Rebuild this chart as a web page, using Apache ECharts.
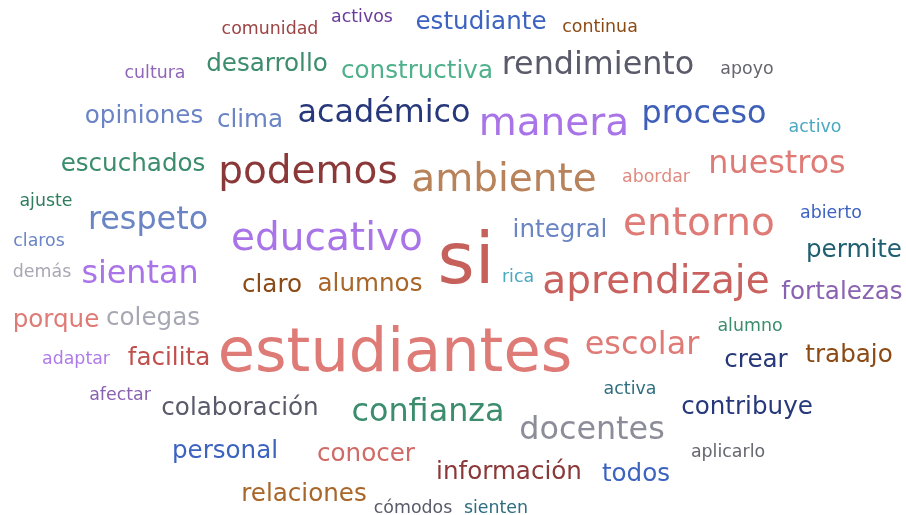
<!DOCTYPE html>
<html>
<head>
<meta charset="utf-8">
<script src="https://cdn.jsdelivr.net/npm/echarts@6/dist/echarts.min.js"></script>
<style>
  html, body { margin: 0; padding: 0; background: #fff; }
  #cloud { width: 906px; height: 515px; }
</style>
</head>
<body>
<div id="cloud"></div>
<script>
// words and their weights
var words = ['si', 'estudiantes', 'aprendizaje', 'educativo', 'entorno', 'podemos', 'ambiente', 'manera',
  'rendimiento', 'académico', 'proceso', 'nuestros', 'respeto', 'sientan', 'docentes', 'confianza', 'escolar',
  'estudiante', 'desarrollo', 'constructiva', 'opiniones', 'clima', 'escuchados', 'integral', 'permite',
  'fortalezas', 'claro', 'alumnos', 'porque', 'colegas', 'facilita', 'crear', 'trabajo', 'colaboración',
  'contribuye', 'personal', 'conocer', 'información', 'todos', 'relaciones',
  'comunidad', 'activos', 'continua', 'cultura', 'apoyo', 'activo', 'abordar', 'ajuste', 'abierto', 'claros',
  'demás', 'rica', 'alumno', 'adaptar', 'afectar', 'activa', 'aplicarlo', 'cómodos', 'sienten'];
var weights = [21, 18, 12, 12, 12, 12, 12, 12,
  10, 10, 10, 10, 10, 10, 10, 10, 10,
  8, 8, 8, 8, 8, 8, 8, 8,
  8, 8, 8, 8, 8, 8, 8, 8, 8,
  8, 8, 8, 8, 8, 8,
  6, 6, 6, 6, 6, 6, 6, 6, 6, 6,
  6, 6, 6, 6, 6, 6, 6, 6, 6];

// where the cloud layout put each word (pixel centre)
var layout = [[466, 264], [395, 355], [656, 283], [327, 240], [699, 225], [308, 173], [504, 181], [554, 125],
  [598, 66], [384, 114], [704, 115], [777, 165], [148, 221], [140, 275], [592, 431], [428, 413], [642, 346],
  [481, 23], [267, 65], [417, 72], [144, 117], [250, 121], [133, 165], [560, 231], [854, 251],
  [842, 293], [272, 286], [370, 285], [56, 321], [153, 319], [169, 359], [756, 361], [849, 356], [240, 409],
  [747, 408], [225, 452], [366, 455], [509, 473], [636, 475], [304, 495],
  [270, 29], [362, 17], [600, 27], [155, 73], [747, 69], [815, 127], [656, 177], [46, 201], [831, 213], [39, 241],
  [42, 272], [518, 277], [750, 326], [76, 359], [120, 395], [630, 389], [728, 452], [413, 508], [496, 508]];

var colors = ['#c5605a', '#df7b76', '#c9625e', '#a974e8', '#df7b76', '#8b3838', '#b8825a', '#a974e8',
  '#5a5a6a', '#27387a', '#3d5fb8', '#df7b76', '#6a84c4', '#a974e8', '#8d8d99', '#3c8c6e', '#df7b76',
  '#3d63c0', '#3c8c6e', '#4fb08c', '#6a84c4', '#6a84c4', '#3c8c6e', '#6a84c4', '#1f5f70',
  '#8a62b2', '#8b4a14', '#a8662a', '#df7b76', '#a8a8b4', '#c0504d', '#27387a', '#8b4a14', '#5a5a6a',
  '#27387a', '#3d63c0', '#d06a66', '#8b3838', '#3d63c0', '#a8662a',
  '#9c4444', '#6a3c9c', '#8b4a14', '#9066b8', '#666670', '#4aa8c0', '#e08a80', '#2e7e5e', '#3d63c0', '#6a84c4',
  '#a8a8b4', '#4aa8c0', '#3c8c6e', '#b07be8', '#8a62b2', '#2e6e80', '#666670', '#5a5a6a', '#2e6e80'];

function fontSize(w) { return 3.6 * w - 4.2; }

var chart = echarts.init(document.getElementById('cloud'));

var data = words.map(function (w, i) {
  return {
    name: w,
    value: layout[i],
    label: { fontSize: fontSize(weights[i]), color: colors[i] }
  };
});

chart.setOption({
  animation: false,
  grid: { left: 0, right: 0, top: 0, bottom: 0 },
  xAxis: { type: 'value', min: 0, max: 906, show: false },
  yAxis: { type: 'value', min: 0, max: 515, inverse: true, show: false },
  series: [{
    type: 'scatter',
    symbolSize: 0,
    itemStyle: { opacity: 1 },
    data: data,
    label: {
      show: true,
      position: 'inside',
      formatter: '{b}',
      fontFamily: 'DejaVu Sans',
      align: 'center',
      verticalAlign: 'middle',
      opacity: 1
    },
    emphasis: { disabled: true }
  }]
});
</script>
</body>
</html>
